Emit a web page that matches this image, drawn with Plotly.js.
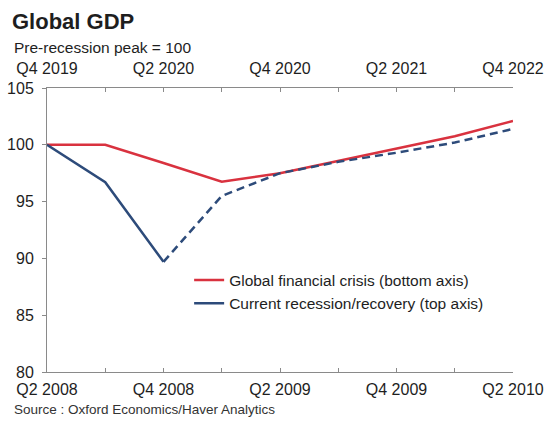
<!DOCTYPE html>
<html>
<head>
<meta charset="utf-8">
<script src="https://cdn.plot.ly/plotly-3.0.1.min.js"></script>
<style>html,body{margin:0;padding:0;background:#fff;}#chart{width:546px;height:421px;}</style>
</head>
<body>
<div id="chart"></div>
<script>
// Bottom axis: Global financial crisis quarters
const gfcQuarters = ['Q2 2008','Q3 2008','Q4 2008','Q1 2009','Q2 2009','Q3 2009','Q4 2009','Q1 2010','Q2 2010'];
const gfcTickText = ['Q2 2008','','Q4 2008','','Q2 2009','','Q4 2009','','Q2 2010'];
// Top axis: current recession quarters
const covidQuarters = ['Q4 2019','Q1 2020','Q2 2020','Q3 2020','Q4 2020','Q1 2021','Q2 2021','Q3 2021','Q4 2022'];
const covidTickText = ['Q4 2019','','Q2 2020','','Q4 2020','','Q2 2021','','Q4 2022'];

// Values (pre-recession peak = 100)
const gfcValues = [100, 100, 98.4, 96.75, 97.5, 98.6, 99.7, 100.75, 102.1];
const covidActual = [100, 96.7, 89.7];
const covidForecastQuarters = ['Q2 2020','Q3 2020','Q4 2020','Q1 2021','Q2 2021','Q3 2021','Q4 2022'];
const covidForecast = [89.7, 95.5, 97.5, 98.5, 99.3, 100.2, 101.4];

const yTicks = [80, 85, 90, 95, 100, 105];

const red = '#d9323f';
const blue = '#2d4b7a';
const font = '"Liberation Sans", Arial, sans-serif';
const txt = '#1e1e1e';

const traces = [
  {x: gfcQuarters, y: gfcValues, xaxis: 'x', yaxis: 'y', type: 'scatter', mode: 'lines',
   name: 'Global financial crisis (bottom axis)', line: {color: red, width: 2.5}},
  {x: covidQuarters.slice(0, covidActual.length), y: covidActual, xaxis: 'x2', yaxis: 'y', type: 'scatter', mode: 'lines',
   name: 'Current recession/recovery (top axis)', line: {color: blue, width: 2.5}},
  {x: covidForecastQuarters, y: covidForecast, xaxis: 'x2', yaxis: 'y', type: 'scatter', mode: 'lines',
   showlegend: false, line: {color: blue, width: 2.5, dash: '8px,5px'}}
];

const axisCommon = {
  type: 'category', range: [0, gfcQuarters.length - 1],
  showline: true, linecolor: '#8a8a8a', linewidth: 1,
  ticks: 'inside', ticklen: 4, tickcolor: '#8a8a8a',
  showgrid: false, zeroline: false,
  tickfont: {family: font, size: 16, color: txt},
  tickangle: 0, fixedrange: true
};

const layout = {
  width: 546, height: 421,
  margin: {l: 47, r: 33, t: 88, b: 49},
  paper_bgcolor: '#ffffff', plot_bgcolor: '#ffffff',
  font: {family: font, color: txt},
  title: {text: '<b>Global GDP</b>', x: 12/546, xanchor: 'left', xref: 'container',
          y: 1 - 21/421, yanchor: 'middle', yref: 'container',
          font: {family: font, size: 22, color: txt}},
  xaxis: Object.assign({}, axisCommon, {
    side: 'bottom', anchor: 'y', ticklabelstandoff: 3,
    tickmode: 'array', tickvals: gfcQuarters, ticktext: gfcTickText
  }),
  xaxis2: Object.assign({}, axisCommon, {
    side: 'top', anchor: 'y', overlaying: 'x', ticklabelstandoff: 7,
    tickmode: 'array', tickvals: covidQuarters, ticktext: covidTickText
  }),
  yaxis: {
    range: [80, 105], tickmode: 'array', tickvals: yTicks,
    showline: true, linecolor: '#8a8a8a', linewidth: 1,
    ticks: 'outside', ticklen: 4, tickcolor: '#8a8a8a', ticklabelstandoff: 5,
    showgrid: false, zeroline: false,
    tickfont: {family: font, size: 16, color: txt}, fixedrange: true
  },
  showlegend: true,
  legend: {
    x: 0.305, y: 0.382, xanchor: 'left', yanchor: 'top',
    bgcolor: 'rgba(0,0,0,0)', borderwidth: 0,
    font: {family: font, size: 15.5, color: txt},
    tracegroupgap: 0, itemwidth: 30
  },
  annotations: [
    {text: 'Pre-recession peak = 100', xref: 'paper', yref: 'paper',
     x: (12 - 47)/466, y: 1 + (88 - 48)/284, xanchor: 'left', yanchor: 'middle',
     showarrow: false, font: {family: font, size: 15.5, color: txt}},
    {text: 'Source : Oxford Economics/Haver Analytics', xref: 'paper', yref: 'paper',
     x: (12 - 47)/466, y: -(409 - 372)/284, xanchor: 'left', yanchor: 'middle',
     showarrow: false, font: {family: font, size: 13.5, color: '#333'}}
  ]
};

Plotly.newPlot('chart', traces, layout, {displayModeBar: false, staticPlot: true});
</script>
</body>
</html>
